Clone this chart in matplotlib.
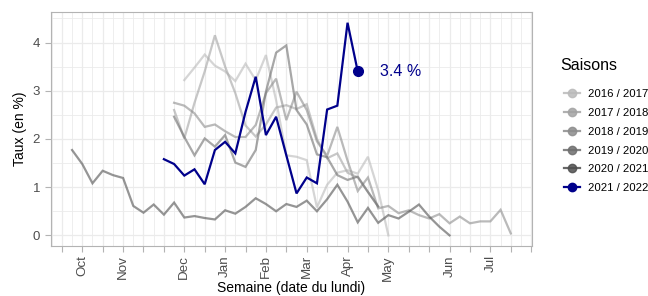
import matplotlib
matplotlib.use("Agg")
import matplotlib.pyplot as plt
from matplotlib.lines import Line2D
import numpy as np

plt.rcParams['font.family'] = ['Liberation Sans', 'DejaVu Sans']

# ---- data (x = week index from first tick, 1 step = 1 week) ----
seasons = ["2016 / 2017", "2017 / 2018", "2018 / 2019", "2019 / 2020", "2020 / 2021", "2021 / 2022"]
season_colors = ["#bababa", "#a3a3a3", "#8c8c8c", "#6e6e6e", "#4f4f4f", "#00008B"]

start_2016 = 12
vals_2016 = [3.22, 3.48, 3.75, 3.52, 3.40, 3.20, 3.56, 3.22, 3.74, 2.80, 1.66, 1.63,
             1.56, 0.58, 1.05, 1.30, 1.35, 1.28, 1.63, 0.94, 0.0]

start_2017 = 11
vals_2017 = [2.60, 2.01, 2.75, 3.40, 4.15, 3.50, 2.95, 2.28, 2.05, 2.30, 2.65, 2.70,
             2.62, 2.72, 2.00, 1.60, 1.70, 1.30, 1.20, 0.90, 0.60]

start_2018 = 11
vals_2018 = [2.75, 2.69, 2.53, 2.25, 2.30, 2.16, 2.04, 2.04, 2.29, 2.95,
             3.25, 2.39, 2.98, 2.60, 1.95, 1.65, 2.25, 1.55, 0.92, 1.20,
             0.56, 0.61, 0.46, 0.52, 0.42, 0.35, 0.44, 0.25, 0.39, 0.25,
             0.29, 0.29, 0.53, 0.04]

start_2019 = 11
vals_2019 = [2.46, 2.04, 1.66, 2.01, 1.84, 2.08, 1.51, 1.42, 1.77, 2.98, 3.79, 3.94,
             2.60, 2.30, 1.68, 1.62, 1.25, 1.15, 1.22, 0.90, 0.60]

start_2020 = 1
vals_2020 = [1.77, 1.48, 1.08, 1.34, 1.25, 1.19, 0.61, 0.47, 0.64, 0.43, 0.68,
             0.37, 0.40, 0.36, 0.33, 0.52, 0.45, 0.59, 0.77, 0.65, 0.50,
             0.65, 0.59, 0.72, 0.50, 0.75, 1.05, 0.70, 0.27, 0.57, 0.26,
             0.42, 0.35, 0.49, 0.64, 0.39, 0.18, 0.0]

start_2021 = 10
vals_2021 = [1.58, 1.48, 1.24, 1.37, 1.06, 1.77, 1.94, 1.70, 2.56, 3.29, 2.08, 2.46,
             1.66, 0.87, 1.20, 1.08, 2.61, 2.69, 4.41, 3.40]

month_ticks = [2, 6, 12, 16, 20, 24, 28, 32, 38, 42]
month_labels = ["Oct", "Nov", "Dec", "Jan", "Feb", "Mar", "Apr", "May", "Jun", "Jul"]

series = [(start_2016, vals_2016), (start_2017, vals_2017), (start_2018, vals_2018),
          (start_2019, vals_2019), (start_2020, vals_2020), (start_2021, vals_2021)]

# ---- figure ----
fig = plt.figure(figsize=(6.48, 2.96), dpi=100)
ax = fig.add_axes([0.078, 0.169, 0.743, 0.790])

for i, ((s, v), c) in enumerate(zip(series, season_colors)):
    x = np.arange(s, s + len(v))
    if i == 5:
        ax.plot(x, v, color=c, lw=1.6, zorder=5, solid_joinstyle='miter')
        ax.plot(x[-1], v[-1], 'o', color=c, ms=7, zorder=6)
        ax.text(x[-1] + 2.2, v[-1], f"{v[-1]:.1f} %", color=c, fontsize=11.5,
                va='center', ha='left')
    else:
        ax.plot(x, v, color=c, lw=1.6, alpha=0.6, zorder=3, solid_joinstyle='miter')

ax.set_xlim(-1.11, 46.08)
ax.set_ylim(-0.22, 4.63)

# grid
for w in range(-1, 47):
    ax.axvline(w, color="#ebebeb", lw=0.6 if w % 2 else 0.9, zorder=0)
for yv in np.arange(0, 4.6, 0.5):
    ax.axhline(yv, color="#ebebeb", lw=0.9 if yv % 1 == 0 else 0.6, zorder=0)

ax.set_yticks([0, 1, 2, 3, 4])
ax.set_yticklabels(["0", "1", "2", "3", "4"])
xt = list(range(0, 47, 2))
ax.set_xticks(xt)
lab = {t: l for t, l in zip(month_ticks, month_labels)}
ax.set_xticklabels([lab.get(t, "") for t in xt], rotation=90)

ax.tick_params(axis='both', colors="#b3b3b3", labelcolor="#4d4d4d",
               length=4, width=0.8)
ax.tick_params(axis='y', labelsize=9.5)
ax.tick_params(axis='x', labelsize=9.6, pad=2.5)
for sp in ax.spines.values():
    sp.set_color("#b3b3b3")
    sp.set_linewidth(0.8)

ax.set_ylabel("Taux (en %)", fontsize=10, color="black", labelpad=4)
ax.set_xlabel("Semaine (date du lundi)", fontsize=10, color="black", labelpad=0)

fig.text(560.5 / 648, 1 - 65 / 296, "Saisons", fontsize=11.5, color="black",
         ha='left', va='center')
handles = [Line2D([], [], color=c, lw=1.6, marker='o', ms=6,
                  alpha=(1.0 if i == 5 else 0.85))
           for i, c in enumerate(season_colors)]
leg = fig.legend(handles, seasons, loc='upper left', bbox_to_anchor=(0.863, 0.715),
                 frameon=False, fontsize=8.2,
                 handlelength=1.4, handletextpad=0.7, labelspacing=0.78,
                 borderaxespad=0.0)

fig.savefig("out.png", dpi=100)
